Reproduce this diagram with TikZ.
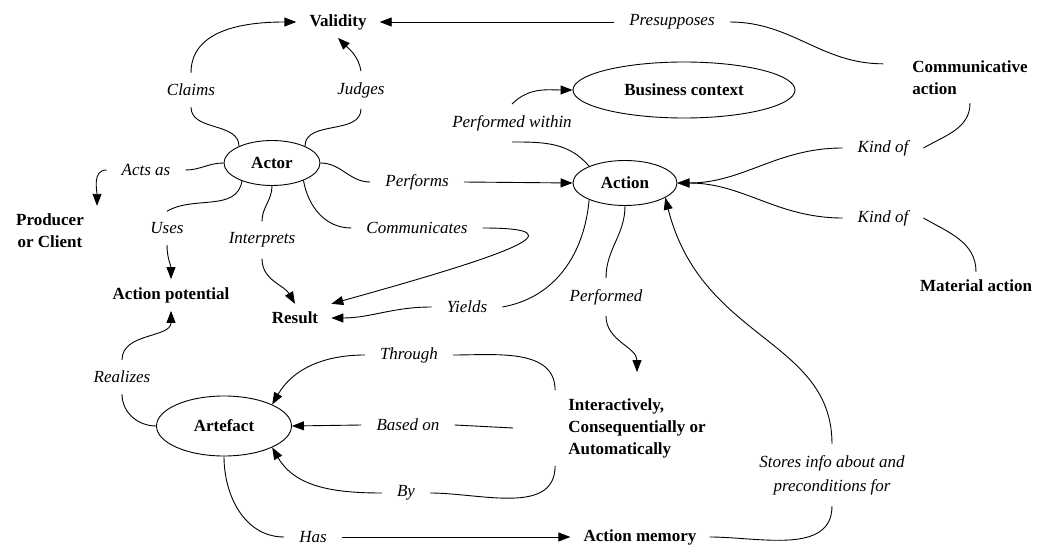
\documentclass[tikz,border=0pt]{standalone}
\usepackage{fontspec}
\setmainfont{Liberation Serif}
\usetikzlibrary{shapes.geometric,arrows.meta}

\begin{document}
\begin{tikzpicture}[x=1pt,y=-1pt,
    concept/.style={font=\fontsize{17}{22}\selectfont\bfseries, inner xsep=13pt, inner ysep=8pt},
    oval/.style={concept, draw, ellipse, inner sep=0pt, line width=0.9pt},
    rel/.style={font=\fontsize{17}{24}\selectfont\itshape, align=center, inner xsep=15pt, inner ysep=11pt},
    link/.style={line width=0.9pt},
    arr/.style={link, -{Triangle[length=12pt,width=9pt]}}]
      \useasboundingbox (0,0) rectangle (1053,545);

      \node[concept] (validity) at (338,22) {Validity};
      \node[concept, align=left] (comm) at (970,78) {Communicative\\action};
      \node[oval, minimum width=222pt, minimum height=56pt] (business) at (684,90) {Business context};
      \node[oval, minimum width=104pt, minimum height=45pt] (action) at (625,183) {Action};
      \node[oval, minimum width=96pt, minimum height=45pt] (actor) at (272,163) {Actor};
      \node[concept, align=center] (producer) at (50,231) {Producer\\or Client};
      \node[concept] (potential) at (171,295) {Action potential};
      \node[concept] (result) at (295,318) {Result};
      \node[oval, minimum width=135pt, minimum height=60pt] (artefact) at (224,426) {Artefact};
      \node[concept, align=left] (manner) at (637,428) {Interactively,\\Consequentially or\\Automatically};
      \node[concept] (memory) at (640,537) {Action memory};
      \node[concept] (material) at (976,286) {Material action};

      \foreach \n/\x/\y/\t in {claims/191/90/Claims, judges/361/90/Judges, actsas/146/170/Acts as,
          performs/417/182/Performs, uses/167/228/Uses, interprets/262/240/Interprets,
          communicates/417/228/Communicates, within/512/123/Performed within,
          presupposes/672/22/Presupposes, kindc/883/148/Kind of, kindm/883/218/Kind of,
          yields/467/307/Yields, performed/606/297/Performed, through/409/355/Through,
          basedon/408/425/Based on, by/406/493/By, realizes/122/377/Realizes, has/313/537/Has,
          stores/832/475/Stores info about and\\preconditions for}
        \node[rel] (\n) at (\x,\y) {\t};

      \draw[link] (actor.153) to[out=90,in=-90] (claims.south);
      \draw[arr] (claims.north) to[out=90,in=180] (validity.west);
      \draw[link] (actor.27) to[out=90,in=-90] (judges.south);
      \draw[arr] (judges.north) to[out=100,in=-45] (validity.south);
      \draw[link] (actor.west) to[out=180,in=0] (actsas.east);
      \draw[arr] (actsas.west) to[out=180,in=90] (producer.north east);
      \draw[link] (actor.211) to[out=-100,in=30] (uses.north);
      \draw[arr] (uses.south) to[out=-90,in=90] (potential.north);
      \draw[link] (actor.south) to[out=-90,in=90] (interprets.north);
      \draw[arr] (interprets.south) to[out=-90,in=120] (result.north);
      \draw[link] (actor.331) to[out=-80,in=180] (communicates.west);
      \draw[arr] (communicates.east) .. controls +(100,0) and +(180,-50) .. (result.north east);
      \draw[link] (actor.east) to[out=0,in=180] (performs.west);
      \draw[arr] (performs.east) -- (action.west);

      \draw[link] (action.155) to[out=130,in=0] (within.south);
      \draw[arr] (within.north) to[out=45,in=180] (business.west);
      \draw[link] ([shift={(-16,11)}]comm.north west) to[out=180,in=0] (presupposes.east);
      \draw[arr] (presupposes.west) -- (validity.east);
      \draw[link] (comm.south) to[out=-90,in=30] (kindc.east);
      \draw[arr] (kindc.west) to[out=180,in=0] (action.east);
      \draw[link] (material.north) to[out=90,in=-30] (kindm.east);
      \draw[arr] (kindm.west) to[out=180,in=0] (action.east);
      \draw[link] (action.205) to[out=-95,in=10] (yields.east);
      \draw[arr] (yields.west) to[out=180,in=0] (result.east);
      \draw[link] (action.south) to[out=-90,in=90] (performed.north);
      \draw[arr] (performed.south) to[out=-90,in=90] ([shift={(0,-18)}]manner.north);
      \draw[link] (memory.east) to[out=0,in=-90] (stores.south);
      \draw[arr] (stores.north) .. controls +(0,-105) and +(36,143) .. (action.340);

      \draw[link] (manner.north west) to[out=90,in=0] (through.east);
      \draw[arr] (through.west) to[out=180,in=60] (artefact.24);
      \draw[link] ([shift={(-42,0)}]manner.west) -- (basedon.east);
      \draw[arr] (basedon.west) -- (artefact.east);
      \draw[link] (manner.south west) to[out=-90,in=0] (by.east);
      \draw[arr] (by.west) to[out=180,in=-60] (artefact.-24);
      \draw[link] (artefact.west) to[out=180,in=-90] (realizes.south);
      \draw[arr] (realizes.north) to[out=90,in=-90] (potential.south);
      \draw[link] (artefact.south) to[out=-90,in=180] (has.west);
      \draw[arr] (has.east) -- (memory.west);
\end{tikzpicture}
\end{document}
